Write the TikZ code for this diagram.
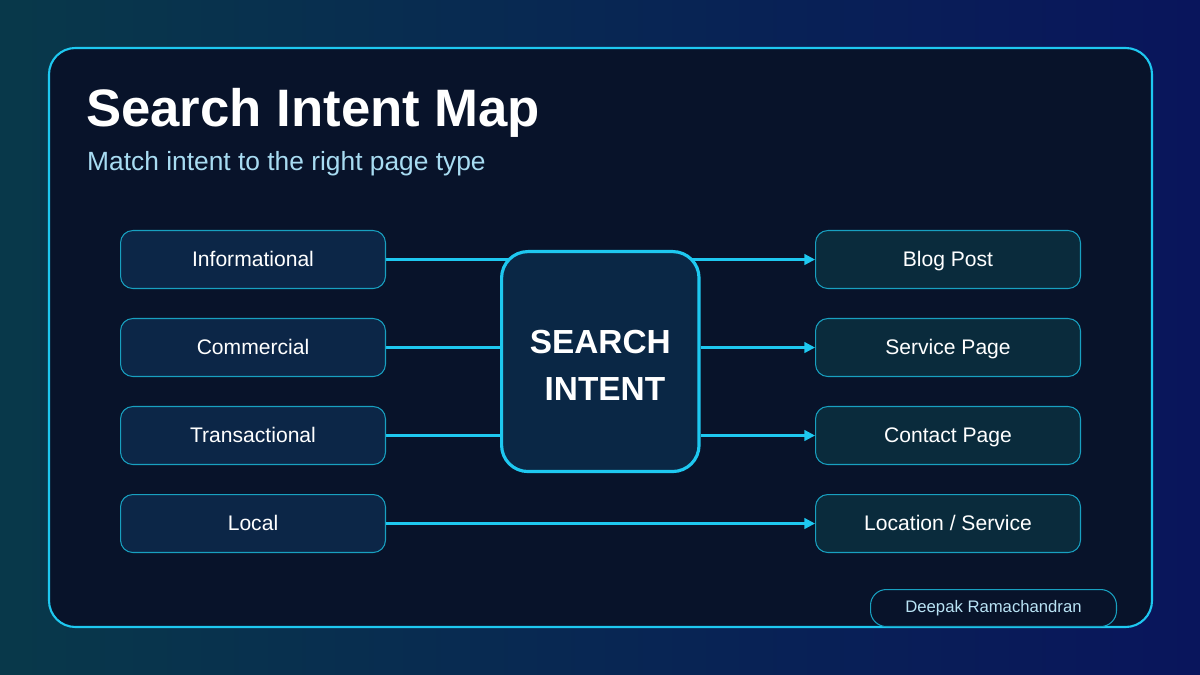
\documentclass[tikz,border=0pt]{standalone}
\usepackage{fontspec}
\setmainfont{Liberation Sans}
\usetikzlibrary{arrows.meta}
\definecolor{bgA}{HTML}{0B1A33}
\definecolor{frameFill}{HTML}{08132A}
\definecolor{cyanL}{HTML}{1EC8F0}
\definecolor{leftFill}{HTML}{0C2647}
\definecolor{rightFill}{HTML}{0A2B3C}
\definecolor{centerFill}{HTML}{0A2745}
\definecolor{subC}{HTML}{A8DCF2}
\pgfdeclarelayer{bg}
\pgfdeclarelayer{lines}
\pgfsetlayers{bg,lines,main}
\tikzset{
 ibox/.style={draw=cyanL!80!black,line width=0.6pt,rounded corners=7pt,minimum width=5.3cm,minimum height=1.16cm,text=white,font=\fontsize{12}{14}\selectfont,anchor=north west,text height=10.8pt,text depth=2.4pt},
 lbox/.style={ibox,fill=leftFill},
 rbox/.style={ibox,fill=rightFill},
 conn/.style={draw=cyanL,line width=1.3pt},
 arr/.style={conn,-{Triangle[length=6pt,width=6pt]}}
}
\begin{document}
\begin{tikzpicture}[x=0.02cm,y=-0.02cm]
\useasboundingbox (0,0) rectangle (1200,675);
\begin{pgfonlayer}{bg}
\shade[left color=bgA!70!teal,right color=bgA!80!blue] (0,0) rectangle (1200,675);
\draw[draw=cyanL,line width=1.2pt,fill=frameFill,rounded corners=15pt] (49,48) rectangle (1152,627);
\end{pgfonlayer}
\node[anchor=west,text=white,font=\bfseries\fontsize{30}{36}\selectfont] (title) at (80,113) {Search Intent Map};
\node[anchor=west,text=subC,font=\fontsize{15}{18}\selectfont] (sub) at (81,164) {Match intent to the right page type};
\node[lbox] (i) at (120,230) {Informational};
\node[lbox] (c) at (120,318) {Commercial};
\node[lbox] (t) at (120,406) {Transactional};
\node[lbox] (l) at (120,494) {Local};
\node[rbox] (bp) at (815,230) {Blog Post};
\node[rbox] (sp) at (815,318) {Service Page};
\node[rbox] (cp) at (815,406) {Contact Page};
\node[rbox] (ls) at (815,494) {Location / Service};
\node[draw=cyanL,line width=1.8pt,fill=centerFill,rounded corners=15pt,minimum width=3.95cm,minimum height=4.4cm,anchor=north west] (si) at (500,250) {};
\node[text=white,align=center,font=\bfseries\fontsize{19}{27}\selectfont,yshift=-2pt] (sil) at (si.center) {SEARCH\\\ INTENT};
\begin{pgfonlayer}{lines}
\draw[conn] (i.east) -- (si.center |- i.east);
\draw[conn] (c.east) -- (si.center |- c.east);
\draw[conn] (t.east) -- (si.center |- t.east);
\draw[conn] (si.center |- bp.west) -- (si.east |- bp.west);
\end{pgfonlayer}
\draw[arr] (si.east |- bp.west) -- (bp.west);
\draw[arr] (si.east |- sp.west) -- (sp.west);
\draw[arr] (si.east |- cp.west) -- (cp.west);
\draw[arr] (l.east) -- (ls.west);
\node[draw=cyanL!80!black,line width=0.6pt,fill=frameFill,rounded corners=9pt,minimum width=4.92cm,minimum height=0.74cm,anchor=north west,text=subC!80!white,font=\fontsize{9.5}{11}\selectfont,text height=7pt,text depth=2pt] (auth) at (870,589) {Deepak Ramachandran};
\end{tikzpicture}
\end{document}
